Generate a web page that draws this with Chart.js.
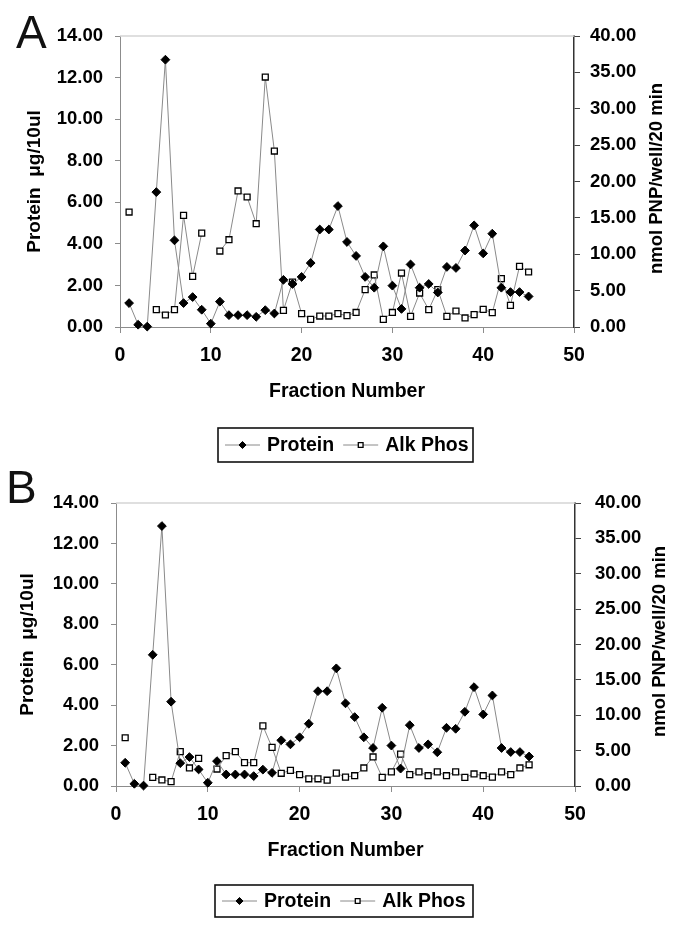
<!DOCTYPE html>
<html>
<head>
<meta charset="utf-8">
<title>Protein and Alk Phos by fraction</title>
<script src="https://cdn.jsdelivr.net/npm/chart.js@4.4.1/dist/chart.umd.min.js"></script>
<style>
  html, body { margin: 0; padding: 0; background: #fff; }
  body { width: 676px; height: 928px; position: relative; overflow: hidden; }
  canvas { position: absolute; left: 0; }
  #chartA { top: 0; }
  #chartB { top: 468px; }
</style>
</head>
<body>
<canvas id="chartA" width="676" height="468"></canvas>
<canvas id="chartB" width="676" height="460"></canvas>
<script>
// ===============================
// DATA
// ===============================
const fractions = [1, 2, 3, 4, 5, 6, 7, 8, 9, 10, 11, 12, 13, 14, 15, 16, 17, 18, 19, 20,
    21, 22, 23, 24, 25, 26, 27, 28, 29, 30, 31, 32, 33, 34, 35, 36, 37, 38, 39, 40,
    41, 42, 43, 44, 45];

const seriesNames = ['Protein', 'Alk Phos'];

// protein (ug/10ul) - same in both panels
const proteinA = [1.15, 0.11, 0.02, 6.49, 12.86, 4.17, 1.15, 1.44, 0.83, 0.16,
    1.22, 0.57, 0.57, 0.57, 0.49, 0.81, 0.65, 2.27, 2.07, 2.41,
    3.08, 4.69, 4.69, 5.82, 4.09, 3.42, 2.41, 1.89, 3.88, 1.99,
    0.87, 3.01, 1.89, 2.07, 1.66, 2.89, 2.84, 3.68, 4.89, 3.54,
    4.49, 1.89, 1.68, 1.68, 1.47];
const proteinB = [1.15, 0.11, 0.02, 6.49, 12.86, 4.17, 1.13, 1.43, 0.82, 0.16,
    1.23, 0.57, 0.57, 0.57, 0.49, 0.81, 0.65, 2.26, 2.06, 2.41,
    3.08, 4.69, 4.69, 5.82, 4.09, 3.41, 2.41, 1.88, 3.87, 2.0,
    0.86, 3.01, 1.88, 2.06, 1.67, 2.88, 2.83, 3.67, 4.89, 3.54,
    4.48, 1.88, 1.68, 1.68, 1.46];

// alk phos (nmol PNP/well/20 min)
const alkPhosA = [15.8, null, null, 2.38, 1.65, 2.38, 15.35, 6.96, 12.9, null,
    10.44, 12.0, 18.7, 17.87, 14.2, 34.36, 24.19, 2.29, 6.18, 1.83,
    1.05, 1.51, 1.51, 1.83, 1.56, 2.0, 5.13, 7.15, 1.05, 2.0,
    7.42, 1.47, 4.67, 2.38, 5.13, 1.47, 2.2, 1.24, 1.7, 2.43,
    1.97, 6.64, 2.98, 8.34, 7.56];
const alkPhosB = [6.82, null, null, 1.22, 0.85, 0.62, 4.85, 2.55, 3.9, null,
    2.4, 4.3, 4.85, 3.3, 3.3, 8.5, 5.45, 1.8, 2.2, 1.6,
    1.02, 1.02, 0.82, 1.82, 1.25, 1.45, 2.55, 4.1, 1.22, 2.0,
    4.5, 1.6, 2.0, 1.45, 2.0, 1.45, 2.0, 1.22, 1.7, 1.45,
    1.25, 2.0, 1.6, 2.55, 3.0];

// tick labels
const xTicks = [0, 10, 20, 30, 40, 50];
const proteinTicks = [0, 2, 4, 6, 8, 10, 12, 14];
const alkPhosTicks = [0, 5, 10, 15, 20, 25, 30, 35, 40];

// ===============================
// STYLE
// ===============================
const FONT = '"Liberation Sans", Arial, Helvetica, sans-serif';
const INK = '#000';
const AXIS_GREY = '#8c8c8c';
const LINE_GREY = '#8a8a8a';

// ===============================
// PANEL EXTRAS (letter, right title, legend box)
// ===============================
const panelExtras = {
    id: 'panelExtras',
    beforeDatasetsDraw(chart, args, opts) {
        const ctx = chart.ctx;
        const area = chart.chartArea;
        // light top edge of the plot area
        ctx.save();
        ctx.strokeStyle = '#d4d4d4';
        ctx.lineWidth = 1.5;
        ctx.beginPath();
        ctx.moveTo(area.left, area.top);
        ctx.lineTo(area.right, area.top);
        ctx.stroke();
        ctx.restore();
    },
    afterDraw(chart, args, opts) {
        const ctx = chart.ctx;
        const area = chart.chartArea;
        ctx.save();

        // panel letter
        ctx.fillStyle = '#111';
        ctx.font = '46px ' + FONT;
        ctx.textAlign = 'left';
        ctx.textBaseline = 'alphabetic';
        ctx.fillText(opts.letter, opts.letterX, opts.letterY);

        // right axis title, reads bottom to top
        ctx.fillStyle = INK;
        ctx.font = 'bold 18.5px ' + FONT;
        ctx.textAlign = 'center';
        ctx.textBaseline = 'middle';
        ctx.translate(opts.rightTitleX, (area.top + area.bottom) / 2 - 3);
        ctx.rotate(-Math.PI / 2);
        ctx.fillText(opts.rightTitle, 0, 0);
        ctx.restore();

        // legend box
        const box = opts.legendBox;
        ctx.save();
        ctx.strokeStyle = '#111';
        ctx.lineWidth = 1.6;
        ctx.strokeRect(box.x, box.y, box.w, box.h);

        const cy = box.y + box.h / 2;
        let x = box.x + 7;
        ctx.font = 'bold 19.5px ' + FONT;
        ctx.textAlign = 'left';
        ctx.textBaseline = 'middle';

        chart.data.datasets.forEach(ds => {
            ctx.strokeStyle = ds.borderColor;
            ctx.lineWidth = 1;
            ctx.beginPath();
            ctx.moveTo(x, cy);
            ctx.lineTo(x + 35, cy);
            ctx.stroke();

            ctx.fillStyle = ds.pointBackgroundColor;
            ctx.strokeStyle = ds.pointBorderColor;
            ctx.lineWidth = ds.pointBorderWidth;
            Chart.helpers.drawPoint(ctx, {
                pointStyle: ds.pointStyle,
                radius: ds.pointRadius * 0.8,
                rotation: 0,
                borderWidth: ds.pointBorderWidth
            }, x + 17.5, cy);

            x += 42;
            ctx.fillStyle = INK;
            ctx.fillText(ds.label, x, cy + 1);
            x += ctx.measureText(ds.label).width + 9;
        });
        ctx.restore();
    }
};

// ===============================
// CHART BUILDER
// ===============================
function toPoints(values) {
    return fractions.map((f, i) => ({ x: f, y: values[i] }));
}

function tickList(list) {
    return scale => { scale.ticks = list.map(v => ({ value: v })); };
}

function makePanel(canvasId, protein, alkPhos, p) {

    const canvas = document.getElementById(canvasId);
    const ctx = canvas.getContext('2d');

    return new Chart(ctx, {
        type: 'line',
        data: {
            datasets: [{
                label: seriesNames[0],
                data: toPoints(protein),
                yAxisID: 'y',
                borderColor: LINE_GREY,
                borderWidth: 1,
                pointStyle: 'rectRot',
                pointRadius: 4.4,
                pointBackgroundColor: '#000',
                pointBorderColor: '#000',
                pointBorderWidth: 1,
                spanGaps: false,
                tension: 0,
                clip: false
            }, {
                label: seriesNames[1],
                data: toPoints(alkPhos),
                yAxisID: 'y1',
                borderColor: LINE_GREY,
                borderWidth: 1,
                pointStyle: 'rect',
                pointRadius: 4.2,
                pointBackgroundColor: '#fff',
                pointBorderColor: '#000',
                pointBorderWidth: 1.3,
                spanGaps: false,
                tension: 0,
                clip: false
            }]
        },
        options: {
            responsive: false,
            animation: false,
            devicePixelRatio: 1,
            layout: { padding: { top: p.top, left: 0, right: 0, bottom: 0 } },
            plugins: {
                legend: { display: false },
                tooltip: { enabled: false },
                panelExtras: {
                    letter: p.letter,
                    letterX: p.letterX,
                    letterY: p.letterY,
                    rightTitle: 'nmol PNP/well/20 min',
                    rightTitleX: p.rightTitleX,
                    legendBox: p.legendBox
                }
            },
            scales: {
                x: {
                    type: 'linear',
                    position: 'bottom',
                    min: 0,
                    max: 50,
                    afterBuildTicks: tickList(xTicks),
                    afterFit: scale => { scale.height = p.xHeight; },
                    grid: { drawOnChartArea: false, tickLength: 6, color: AXIS_GREY },
                    border: { color: AXIS_GREY, width: 1 },
                    ticks: {
                        padding: 11,
                        color: INK,
                        font: { family: FONT, size: 19.5, weight: 'bold' }
                    },
                    title: {
                        display: true,
                        text: 'Fraction Number',
                        color: INK,
                        font: { family: FONT, size: 19.5, weight: 'bold' },
                        padding: { top: 0, bottom: p.xTitlePad }
                    }
                },
                y: {
                    type: 'linear',
                    position: 'left',
                    min: 0,
                    max: 14,
                    afterBuildTicks: tickList(proteinTicks),
                    afterFit: scale => { scale.width = p.left; },
                    grid: { drawOnChartArea: false, tickLength: 5, color: AXIS_GREY },
                    border: { color: AXIS_GREY, width: 1 },
                    ticks: {
                        padding: p.leftTickPad,
                        color: INK,
                        font: { family: FONT, size: 18.5, weight: 'bold' },
                        callback: v => v.toFixed(2)
                    },
                    title: {
                        display: true,
                        text: 'Protein  \u03bcg/10ul',
                        color: INK,
                        font: { family: FONT, size: 19, weight: 'bold' },
                        padding: { top: p.leftTitlePad, bottom: 0 }
                    }
                },
                y1: {
                    type: 'linear',
                    position: 'right',
                    min: 0,
                    max: 40,
                    afterBuildTicks: tickList(alkPhosTicks),
                    afterFit: scale => { scale.width = p.right; },
                    grid: { drawOnChartArea: false, tickLength: 6, color: '#444' },
                    border: { color: '#333', width: 1.5 },
                    ticks: {
                        padding: p.rightTickPad,
                        color: INK,
                        font: { family: FONT, size: 18.5, weight: 'bold' },
                        callback: v => v.toFixed(2)
                    }
                }
            }
        },
        plugins: [panelExtras]
    });
}

// ===============================
// DRAW BOTH PANELS
// ===============================
makePanel('chartA', proteinA, alkPhosA, {
    letter: 'A', letterX: 16, letterY: 48,
    top: 36, left: 120, right: 102, xHeight: 141,
    leftTickPad: 12, rightTickPad: 10,
    leftTitlePad: 23.6, xTitlePad: 65,
    rightTitleX: 657,
    legendBox: { x: 218, y: 428, w: 255, h: 34 }
});

makePanel('chartB', proteinB, alkPhosB, {
    letter: 'B', letterX: 6, letterY: 35,
    top: 35, left: 116, right: 101, xHeight: 142,
    leftTickPad: 12, rightTickPad: 14,
    leftTitlePad: 16.6, xTitlePad: 66,
    rightTitleX: 660,
    legendBox: { x: 215, y: 417, w: 258, h: 32 }
});
</script>
</body>
</html>
